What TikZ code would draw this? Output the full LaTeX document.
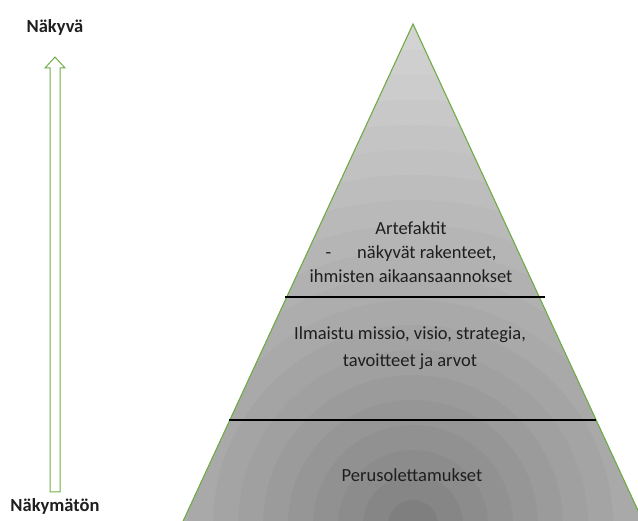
\documentclass[tikz,border=0pt]{standalone}
\usepackage{fontspec}
\setmainfont{Carlito}
\definecolor{leafgreen}{RGB}{112,173,71}
\definecolor{inkgray}{RGB}{30,30,30}
\begin{document}
\begin{tikzpicture}[x=1pt,y=-1pt,
  label/.style={font=\fontsize{18.5}{18.5}\selectfont\bfseries, text=inkgray, inner sep=0pt},
  layertext/.style={font=\fontsize{18.5}{24}\selectfont, text=inkgray, align=center, inner sep=0pt},
  divider/.style={draw=black, line width=1.2pt},
  outline/.style={draw=leafgreen, line width=1.1pt}]
\useasboundingbox (0,0) rectangle (638,521);
\clip (0,0) rectangle (638,521);

% pyramid with banded radial shading from the base centre
\coordinate (apex) at (413,24);
\coordinate (baseL) at (179,530);
\coordinate (baseR) at (647,530);
\begin{scope}
  \clip (apex) -- (baseR) -- (baseL) -- cycle;
  \foreach \i in {22,...,1} {
    \pgfmathsetmacro\k{54-38*(\i/21)^0.75}
    \fill[black!\k] (413,525) circle ({25*\i pt});
  }
\end{scope}
\draw[outline, line join=miter] (baseL) -- (apex) -- (baseR);

% layer boundaries
\coordinate (d1a) at (285,297);
\coordinate (d1b) at (545,297);
\coordinate (d2a) at (229,420);
\coordinate (d2b) at (596,420);
\draw[divider] (d1a) -- (d1b);
\draw[divider] (d2a) -- (d2b);

% layer texts
\node[layertext] (artefacts) at (411,252) {Artefaktit\\-\hspace{26pt}näkyvät rakenteet,\\ihmisten aikaansaannokset};
\node[layertext, font=\fontsize{18.5}{27}\selectfont] (values) at (410,348) {Ilmaistu missio, visio, strategia,\\tavoitteet ja arvot};
\node[layertext] (assumptions) at (412,475) {Perusolettamukset};

% hollow visibility arrow
\draw[outline, line width=1pt, line join=miter]
  (50,492) -- (50,68) -- (45,68) -- (55,57) -- (65,68) -- (60,68) -- (60,492) -- cycle;
\node[label] (visible) at (55,27) {Näkyvä};
\node[label] (invisible) at (55,506) {Näkymätön};
\end{tikzpicture}
\end{document}
